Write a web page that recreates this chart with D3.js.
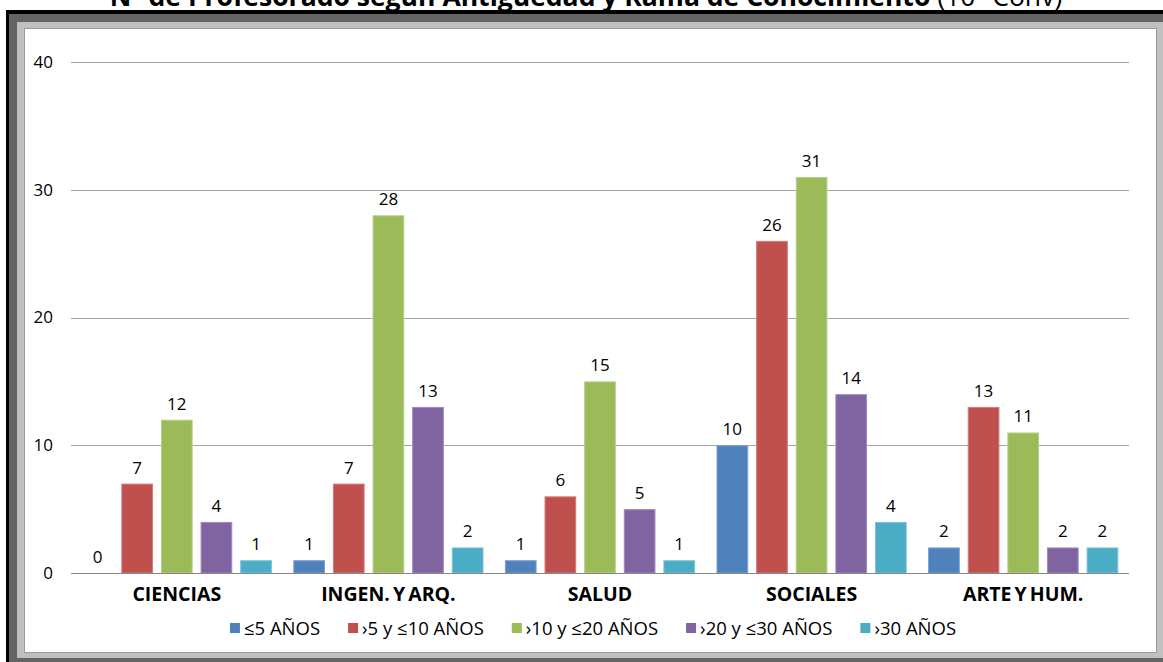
<!DOCTYPE html>
<html lang="es">
<head>
<meta charset="UTF-8">
<title>Profesorado según antigüedad</title>
<script src="https://d3js.org/d3.v7.min.js"></script>
<style>
html, body { margin: 0; padding: 0; background: white; }
body { font-family: 'Open Sans', sans-serif; }
.tick-label { font-size: 17px; fill: #000; }
.value { font-size: 17px; fill: #000; }
.cat { font-size: 19.5px; font-weight: bold; fill: #000; word-spacing: -2px; }
.legend text { font-size: 18.5px; fill: #000; }
</style>
</head>
<body>
<div id="chart"></div>
<script>

// --------------------------------------
// Data
// --------------------------------------

const categories = ["CIENCIAS", "INGEN. Y ARQ.", "SALUD", "SOCIALES", "ARTE Y HUM."];
const seriesNames = ["≤5 AÑOS", "›5 y ≤10 AÑOS", "›10 y ≤20 AÑOS", "›20 y ≤30 AÑOS", "›30 AÑOS"];
const upTo5 = [0, 1, 1, 10, 2];
const from5to10 = [7, 7, 6, 26, 13];
const from10to20 = [12, 28, 15, 31, 11];
const from20to30 = [4, 13, 5, 14, 2];
const over30 = [1, 2, 1, 4, 2];
const yTicks = [0, 10, 20, 30, 40];

const seriesValues = [upTo5, from5to10, from10to20, from20to30, over30];
const colors = ["#4F81BD", "#C0504D", "#9BBB59", "#8064A2", "#4BACC6"];
const strokes = ["#7A9FD0", "#D47C7A", "#B5D08A", "#A08BBF", "#7CC4D7"];

// --------------------------------------
// Size
// --------------------------------------

const W = 1163, H = 662;
const plot = {left: 71, right: 1129, top: 62, bottom: 573};

const svg = d3.select("#chart").append("svg")
  .attr("width", W)
  .attr("height", H);

// --------------------------------------
// Frame
// --------------------------------------

svg.append("rect").attr("x", 6).attr("y", 10).attr("width", W).attr("height", H).attr("fill", "#000");
svg.append("rect").attr("x", 9).attr("y", 14).attr("width", W).attr("height", 652).attr("fill", "#646464");
svg.append("rect").attr("x", 17).attr("y", 22).attr("width", 1147).attr("height", 636).attr("fill", "#c0c0c0");
svg.append("rect").attr("x", 24.5).attr("y", 28.5).attr("width", 1132).attr("height", 624)
  .attr("fill", "#fff").attr("stroke", "#9a9a9a");

// title (cut at the top of the picture, as in the source)
const title = svg.append("text")
  .attr("x", 586)
  .attr("y", 6)
  .attr("text-anchor", "middle")
  .style("font-size", "24px")
  .style("fill", "#000");
title.append("tspan").style("font-weight", "bold").text("Nº de Profesorado según Antigüedad y Rama de Conocimiento ");
title.append("tspan").style("font-weight", "normal").text("(10º Conv)");
const tw = title.node().getComputedTextLength();
title.style("font-size", (24 * 953 / tw) + "px");

// --------------------------------------
// Scales
// --------------------------------------

const y = d3.scaleLinear().domain([0, 40]).range([plot.bottom, plot.top]);

const x0 = d3.scaleBand()
  .domain(categories)
  .range([plot.left, plot.right])
  .padding(0);

const x1 = d3.scaleBand()
  .domain(d3.range(seriesNames.length))
  .range([0, x0.bandwidth()])
  .paddingInner(0.2)
  .paddingOuter(0.27);

// --------------------------------------
// Grid and axis
// --------------------------------------

svg.append("g")
  .selectAll("line")
  .data(yTicks.filter(d => d > 0))
  .join("line")
  .attr("x1", plot.left)
  .attr("x2", plot.right)
  .attr("y1", d => Math.round(y(d)) + 0.5)
  .attr("y2", d => Math.round(y(d)) + 0.5)
  .attr("stroke", "#a6a6a6");

svg.append("g")
  .selectAll("text")
  .data(yTicks)
  .join("text")
  .attr("class", "tick-label")
  .attr("x", 53)
  .attr("y", d => y(d))
  .attr("dy", "0.35em")
  .attr("text-anchor", "end")
  .text(d => d);

// --------------------------------------
// Bars
// --------------------------------------

const groups = svg.append("g")
  .selectAll("g")
  .data(categories)
  .join("g")
  .attr("transform", d => `translate(${x0(d)},0)`);

groups.selectAll("rect")
  .data((c, ci) => seriesValues.map((vals, si) => ({s: si, v: vals[ci]})))
  .join("rect")
  .attr("x", d => x1(d.s) + 0.5)
  .attr("y", d => y(d.v) + 0.5)
  .attr("width", x1.bandwidth() - 1)
  .attr("height", d => Math.max(0, y(0) - y(d.v) - 0.5))
  .attr("fill", d => colors[d.s])
  .attr("stroke", d => d.v > 0 ? strokes[d.s] : "none");

groups.selectAll("text")
  .data((c, ci) => seriesValues.map((vals, si) => ({s: si, v: vals[ci]})))
  .join("text")
  .attr("class", "value")
  .attr("x", d => x1(d.s) + x1.bandwidth() / 2)
  .attr("y", d => y(d.v) - 10)
  .attr("text-anchor", "middle")
  .text(d => d.v);

// baseline
svg.append("line")
  .attr("x1", plot.left)
  .attr("x2", plot.right)
  .attr("y1", plot.bottom + 0.5)
  .attr("y2", plot.bottom + 0.5)
  .attr("stroke", "#868686");

// category labels
svg.append("g")
  .selectAll("text")
  .data(categories)
  .join("text")
  .attr("class", "cat")
  .attr("x", d => x0(d) + x0.bandwidth() / 2)
  .attr("y", 601)
  .attr("text-anchor", "middle")
  .text(d => d);

// --------------------------------------
// Legend
// --------------------------------------

const legend = svg.append("g").attr("class", "legend");
const items = legend.selectAll("g")
  .data(seriesNames)
  .join("g");

items.append("rect")
  .attr("width", 10)
  .attr("height", 10)
  .attr("y", 623)
  .attr("fill", (d, i) => colors[i]);

items.append("text")
  .attr("x", 14)
  .attr("y", 635)
  .text(d => d);

let widths = [];
items.each(function () { widths.push(14 + d3.select(this).select("text").node().getComputedTextLength()); });
const gap = 28;
const total = d3.sum(widths) + gap * (widths.length - 1);
let lx = 593 - total / 2;
items.each(function (d, i) {
  d3.select(this).attr("transform", `translate(${lx},0)`);
  lx += widths[i] + gap;
});

</script>
</body>
</html>
